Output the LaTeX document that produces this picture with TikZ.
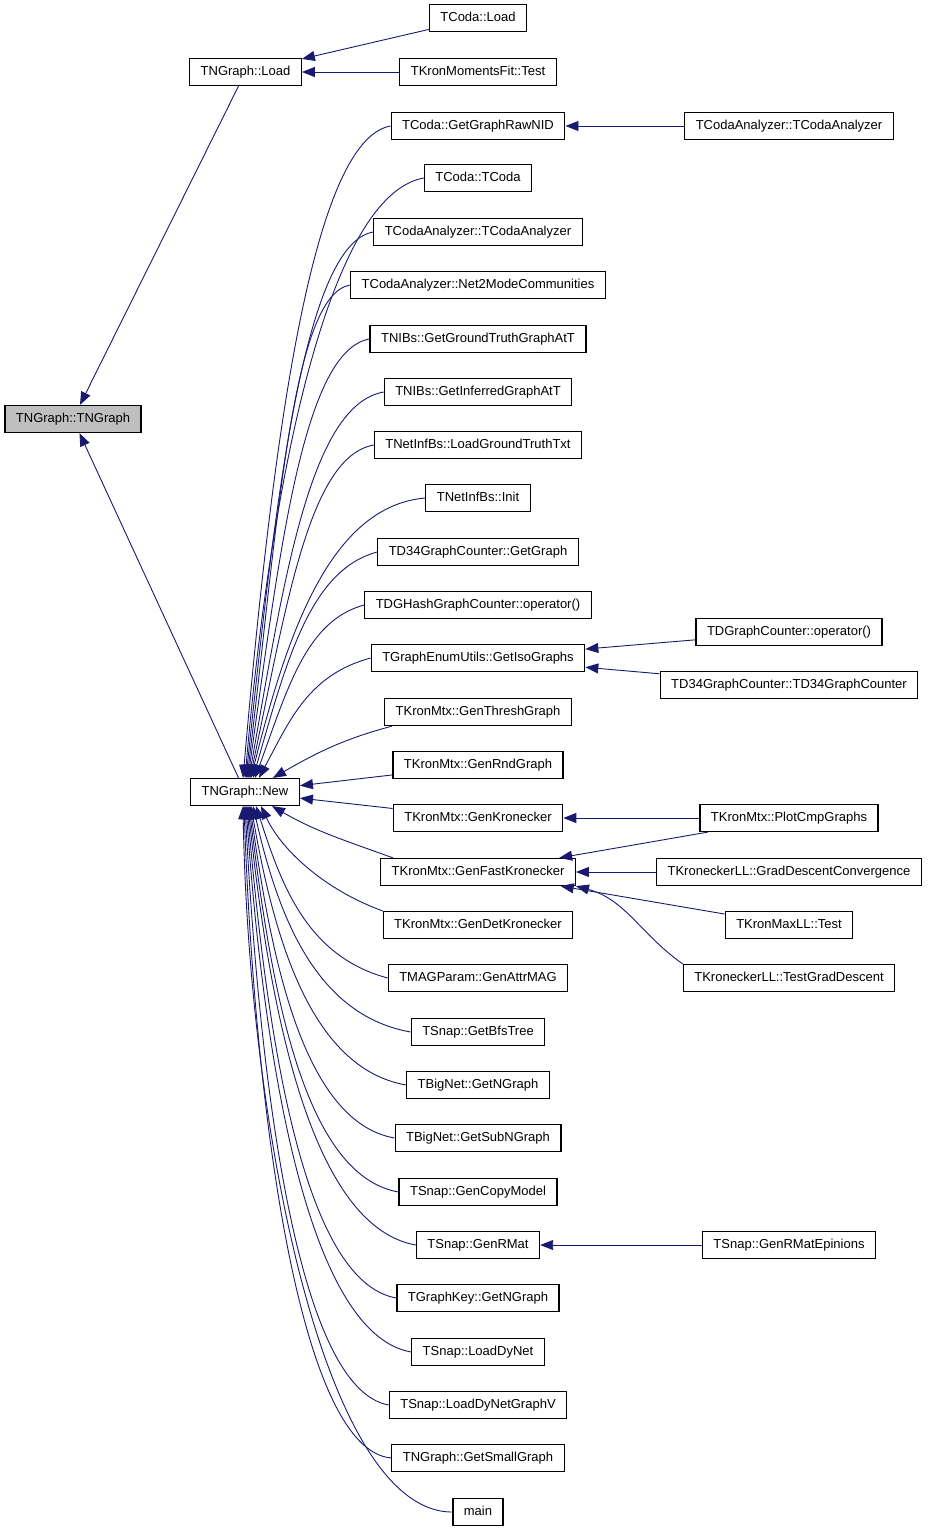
\documentclass[tikz,border=0pt]{standalone}
\usepackage{fontspec}
\setmainfont{Liberation Sans}
\usetikzlibrary{arrows.meta}
\definecolor{edgeblue}{RGB}{25,25,112}
\definecolor{nodegray}{RGB}{191,191,191}

\begin{document}
\begin{tikzpicture}[x=1pt, y=1pt]
	% Define styles
	\tikzstyle{func} = [rectangle, draw=black, line width=1.2pt, minimum height=27pt, inner xsep=11pt, inner ysep=0pt, text height=9.5pt, text depth=2.5pt, text centered, font=\fontsize{13}{15}\selectfont]
	\tikzstyle{current} = [func, fill=nodegray]
	\tikzstyle{arrow} = [draw=edgeblue, line width=0.9pt, -{Triangle[length=13pt, width=10pt]}]

	\useasboundingbox (0,0) rectangle (928,-1533);

	% Nodes
	\node (tngraph) [current] at (73,-419) {TNGraph::TNGraph};
	\node (load) [func] at (245.5,-72) {TNGraph::Load};
	\node (new) [func] at (245,-792) {TNGraph::New};

	\node (codaload) [func] at (478,-18) {TCoda::Load};
	\node (kmftest) [func] at (478,-72) {TKronMomentsFit::Test};
	\node (rawnid) [func] at (478,-126) {TCoda::GetGraphRawNID};
	\node (tcoda) [func] at (478,-178) {TCoda::TCoda};
	\node (tcaana) [func] at (478,-232) {TCodaAnalyzer::TCodaAnalyzer};
	\node (net2mode) [func] at (478,-285) {TCodaAnalyzer::Net2ModeCommunities};
	\node (groundtruth) [func] at (478,-339) {TNIBs::GetGroundTruthGraphAtT};
	\node (inferred) [func] at (478,-392) {TNIBs::GetInferredGraphAtT};
	\node (loadgtt) [func] at (478,-445) {TNetInfBs::LoadGroundTruthTxt};
	\node (netinit) [func] at (478,-498) {TNetInfBs::Init};
	\node (d34getgraph) [func] at (478,-552) {TD34GraphCounter::GetGraph};
	\node (dghashop) [func] at (478,-605) {TDGHashGraphCounter::operator()};
	\node (isographs) [func] at (478,-658) {TGraphEnumUtils::GetIsoGraphs};
	\node (threshgraph) [func] at (478,-712) {TKronMtx::GenThreshGraph};
	\node (rndgraph) [func] at (478,-765) {TKronMtx::GenRndGraph};
	\node (genkron) [func] at (478,-818) {TKronMtx::GenKronecker};
	\node (genfast) [func] at (478,-872) {TKronMtx::GenFastKronecker};
	\node (gendet) [func] at (478,-925) {TKronMtx::GenDetKronecker};
	\node (attrmag) [func] at (478,-978) {TMAGParam::GenAttrMAG};
	\node (bfstree) [func] at (478,-1032) {TSnap::GetBfsTree};
	\node (bigngraph) [func] at (478,-1085) {TBigNet::GetNGraph};
	\node (bigsubngraph) [func] at (478,-1138) {TBigNet::GetSubNGraph};
	\node (copymodel) [func] at (478,-1192) {TSnap::GenCopyModel};
	\node (genrmat) [func] at (478,-1245) {TSnap::GenRMat};
	\node (keyngraph) [func] at (478,-1298) {TGraphKey::GetNGraph};
	\node (loaddynet) [func] at (478,-1352) {TSnap::LoadDyNet};
	\node (loaddynetv) [func] at (478,-1405) {TSnap::LoadDyNetGraphV};
	\node (smallgraph) [func] at (478,-1458) {TNGraph::GetSmallGraph};
	\node (main) [func] at (478,-1512) {main};

	\node (codaanalyzer) [func] at (789,-126) {TCodaAnalyzer::TCodaAnalyzer};
	\node (dgraphop) [func] at (789,-632) {TDGraphCounter::operator()};
	\node (d34ctor) [func] at (789,-685) {TD34GraphCounter::TD34GraphCounter};
	\node (plotcmp) [func] at (789,-818) {TKronMtx::PlotCmpGraphs};
	\node (graddesc) [func] at (789,-872) {TKroneckerLL::GradDescentConvergence};
	\node (maxlltest) [func] at (789,-925) {TKronMaxLL::Test};
	\node (testgrad) [func] at (789,-978) {TKroneckerLL::TestGradDescent};
	\node (rmatepinions) [func] at (789,-1245) {TSnap::GenRMatEpinions};

	% Arrows
	\draw [arrow] (load) -- (tngraph);
	\draw [arrow] (new) -- (tngraph);
	\draw [arrow] (codaload) -- (load);
	\draw [arrow] (kmftest) -- (load);

	% callers of New, above it
	\draw [arrow] (rawnid.west) to[out=190, in=85, out distance=80pt, in distance=340pt] ([xshift=-2pt]new.north);
	\draw [arrow] (tcoda.west) to[out=190, in=85, out distance=95pt, in distance=310pt] (new.north);
	\draw [arrow] (tcaana.west) to[out=190, in=84, out distance=70pt, in distance=285pt] ([xshift=1pt]new.north);
	\draw [arrow] (net2mode.west) to[out=190, in=83, out distance=60pt, in distance=255pt] ([xshift=2pt]new.north);
	\draw [arrow] (groundtruth.west) to[out=190, in=82, out distance=68pt, in distance=225pt] ([xshift=3pt]new.north);
	\draw [arrow] (inferred.west) to[out=190, in=80, out distance=75pt, in distance=200pt] ([xshift=4pt]new.north);
	\draw [arrow] (loadgtt.west) to[out=190, in=78, out distance=66pt, in distance=175pt] ([xshift=5pt]new.north);
	\draw [arrow] (netinit.west) to[out=185, in=76, out distance=95pt, in distance=150pt] ([xshift=6pt]new.north);
	\draw [arrow] (d34getgraph.west) to[out=195, in=74, out distance=70pt, in distance=120pt] ([xshift=8pt]new.north);
	\draw [arrow] (dghashop.west) to[out=195, in=70, out distance=60pt, in distance=95pt] ([xshift=10pt]new.north);
	\draw [arrow] (isographs.west) to[out=195, in=62, out distance=64pt, in distance=66pt] ([xshift=14pt]new.north);
	\draw [arrow] ([xshift=8pt]threshgraph.south west) to[out=195, in=30] ([xshift=28pt]new.north);
	\draw [arrow] (rndgraph) -- (new);

	% callers of New, below it
	\draw [arrow] (genkron) -- (new);
	\draw [arrow] ([xshift=13pt]genfast.north west) to[out=160, in=-30] ([xshift=27pt]new.south);
	\draw [arrow] (gendet.north west) to[out=160, in=-65, out distance=60pt, in distance=50pt] ([xshift=16pt]new.south);
	\draw [arrow] (attrmag.west) to[out=165, in=-72, out distance=85pt, in distance=80pt] ([xshift=11pt]new.south);
	\draw [arrow] (bfstree.west) to[out=170, in=-77, out distance=100pt, in distance=105pt] ([xshift=8pt]new.south);
	\draw [arrow] (bigngraph.west) to[out=170, in=-80, out distance=100pt, in distance=125pt] ([xshift=6pt]new.south);
	\draw [arrow] (bigsubngraph.west) to[out=170, in=-82, out distance=95pt, in distance=145pt] ([xshift=5pt]new.south);
	\draw [arrow] (copymodel.west) to[out=170, in=-83, out distance=100pt, in distance=170pt] ([xshift=4pt]new.south);
	\draw [arrow] (genrmat.west) to[out=170, in=-84, out distance=110pt, in distance=190pt] ([xshift=3pt]new.south);
	\draw [arrow] (keyngraph.west) to[out=170, in=-85, out distance=98pt, in distance=215pt] ([xshift=2pt]new.south);
	\draw [arrow] (loaddynet.west) to[out=170, in=-86, out distance=108pt, in distance=240pt] ([xshift=1pt]new.south);
	\draw [arrow] (loaddynetv.west) to[out=170, in=-87, out distance=95pt, in distance=265pt] (new.south);
	\draw [arrow] (smallgraph.west) to[out=175, in=-88, out distance=95pt, in distance=290pt] ([xshift=-1pt]new.south);
	\draw [arrow] (main.west) to[out=180, in=-89, out distance=130pt, in distance=315pt] ([xshift=-2pt]new.south);

	% right column
	\draw [arrow] (codaanalyzer) -- (rawnid);
	\draw [arrow] (dgraphop) -- (isographs);
	\draw [arrow] (d34ctor) -- (isographs);
	\draw [arrow] (plotcmp) -- (genkron);
	\draw [arrow] (plotcmp) -- (genfast);
	\draw [arrow] (graddesc) -- (genfast);
	\draw [arrow] (maxlltest) -- (genfast);
	\draw [arrow] (testgrad.north west) to[out=145, in=-15] (genfast.south east);
	\draw [arrow] (rmatepinions) -- (genrmat);
\end{tikzpicture}
\end{document}
